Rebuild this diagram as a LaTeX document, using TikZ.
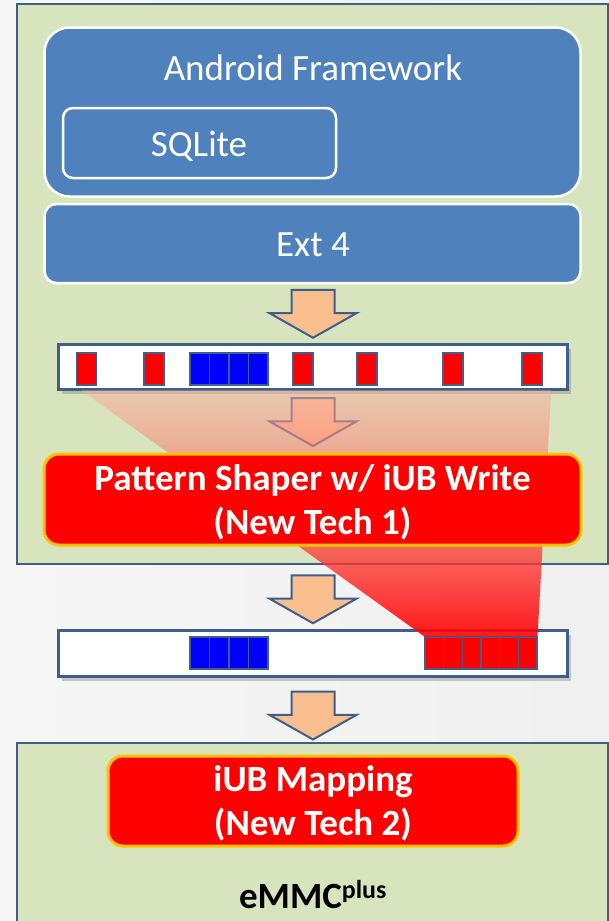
\documentclass[tikz,border=0pt]{standalone}
\usepackage{fontspec}
\setmainfont{Carlito}
\usetikzlibrary{calc,shapes.arrows,shadows,fadings}
\definecolor{frame}{HTML}{3F5F8A}
\definecolor{leaf}{HTML}{D7E4BD}
\definecolor{layer}{HTML}{4F81BD}
\definecolor{amber}{HTML}{FFC000}
\definecolor{peach}{HTML}{F9BF8F}
\definecolor{salmon}{HTML}{FAAFA0}
\tikzfading[name=fadedown, top color=transparent!50, bottom color=transparent!10]
\tikzset{
  big/.style={font=\fontsize{37}{44}\selectfont},
  bigbold/.style={font=\fontsize{37}{44}\selectfont\bfseries},
  hostbox/.style={draw=frame, fill=leaf, line width=2.5pt, minimum width=591pt},
  layerbox/.style={draw=white, fill=layer, line width=2.5pt, rounded corners=#1, text=white, big},
  techbox/.style={draw=amber, fill=red, line width=3pt, rounded corners=15pt, text=white, bigbold,
    align=center, text depth=0pt},
  queue/.style={draw=frame, fill=white, line width=3pt, minimum width=509pt,
    drop shadow={shadow xshift=4pt, shadow yshift=-5pt, opacity=.4}},
  rblock/.style={draw=frame, fill=red, line width=1.5pt, minimum width=20pt, minimum height=32pt, inner sep=0pt},
  bblock/.style={rblock, fill=blue, minimum width=19.5pt},
  sblock/.style={rblock, minimum width=18.7pt},
  downarrow/.style={single arrow, draw=frame, fill=peach, line width=2pt, rotate=-90, anchor=tail,
    inner sep=0pt, inner ysep=20.5pt, minimum width=85pt, minimum height=48pt,
    single arrow head extend=22pt, single arrow tip angle=121}
}
\begin{document}
\begin{tikzpicture}[x=1pt,y=-1pt]
  \useasboundingbox (0,0) rectangle (609,921);
  \shade[left color=gray!7, right color=gray!12] (0,0) rectangle (609,921);

  \node[hostbox, minimum height=560pt] (host) at (312.5,284) {};
  \node[layerbox=25pt, minimum width=536pt, minimum height=169pt] (fw) at (312.5,112) {};
  \node[text=white, big, anchor=base] (fwtxt) at (313,80) {Android Framework};
  \node[layerbox=10pt, minimum width=273pt, minimum height=70pt] (sqlite) at (199.5,143) {};
  \node[text=white, big, anchor=base] (sqltxt) at (199,156) {SQLite};
  \node[layerbox=12pt, minimum width=536pt, minimum height=79pt] (ext) at (312.5,243.5) {};
  \node[text=white, big, anchor=base] (exttxt) at (313,256) {Ext 4};

  \node[queue, minimum height=45pt] (bar1) at (312.5,366.5) {};
  \draw
    (86.5,369) node[rblock] (w1) {}
    (154,369) node[rblock] (w2) {}
    (303,369) node[rblock] (w3) {}
    (367,369) node[rblock] (w4) {}
    (453,369) node[rblock] (w5) {}
    (532,369) node[rblock] (w6) {}
    (199.75,369) node[bblock] (d1) {}
    (219.25,369) node[bblock] (d2) {}
    (238.75,369) node[bblock] (d3) {}
    (258.25,369) node[bblock] (d4) {};

  \node[queue, minimum height=46pt] (bar2) at (312.5,653) {};
  \draw
    (434.3,653) node[sblock] (s1) {}
    (453,653) node[sblock] (s2) {}
    (471.7,653) node[sblock] (s3) {}
    (490.3,653) node[sblock] (s4) {}
    (509,653) node[sblock] (s5) {}
    (527.7,653) node[sblock] (s6) {}
    (199.75,653) node[bblock] (e1) {}
    (219.25,653) node[bblock] (e2) {}
    (238.75,653) node[bblock] (e3) {}
    (258.25,653) node[bblock] (e4) {};

  \node[downarrow] (a1) at ($(ext.south)+(0.5,4.5)$) {};
  \node[downarrow] (a2) at ($(bar1.south)+(0.5,6.5)$) {};
  \node[downarrow] (a3) at ($(host.south)+(0.5,9)$) {};

  \shade[top color=salmon, bottom color=red, path fading=fadedown]
    ($(bar1.south west)+(25,0)$) -- ($(bar1.south east)+(-17,0)$)
    -- (s6.north east) -- (s1.north west) -- cycle;

  \node[techbox, minimum width=537pt, minimum height=91pt] (shaper) at (312.5,499.5)
    {Pattern Shaper w/ iUB Write\\(New Tech 1)};

  \node[hostbox, minimum height=217pt] (device) at (312.5,851.5) {};
  \node[techbox, minimum width=410pt, minimum height=90pt] (mapping) at (313,801)
    {iUB Mapping\\(New Tech 2)};
  \node[bigbold, anchor=base] (emmc) at (313,908) {eMMC\textsuperscript{plus}};
  \node[downarrow] (a4) at ($(bar2.south)+(0.5,13)$) {};
\end{tikzpicture}
\end{document}
